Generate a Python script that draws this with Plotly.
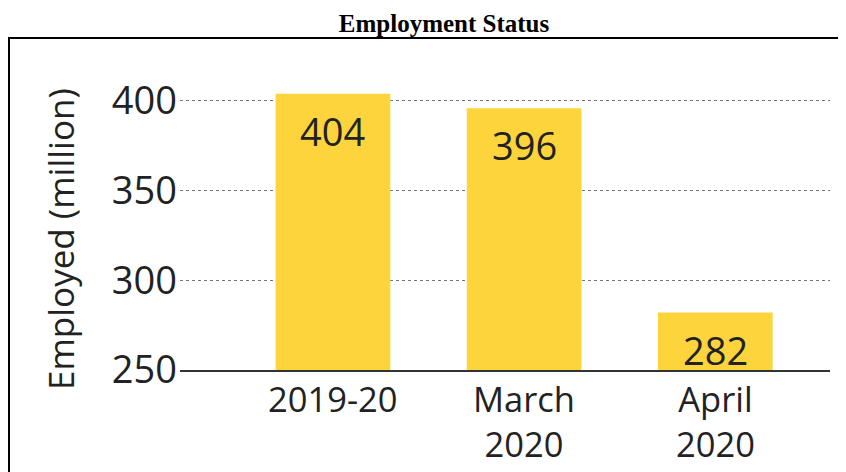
import plotly.graph_objects as go

categories = ["2019-20", "March<br>2020", "April<br>2020"]
employed = [404, 396, 282]
y_ticks = [250, 300, 350, 400]
y_title = "Employed (million)"
chart_title = "Employment Status"

W, H = 846, 472
OFF = 8  # page body margin
# plot area in page pixels: x 180..830, y 80..370
L, R, T, B = 180 - OFF, W - (830 - OFF), 80 - OFF, H - (370 - OFF)
pw, ph = W - L - R, H - T - B

def px_x(px):  # page px -> paper
    return (px - OFF - L) / pw

def px_y(py):
    return (H - B - (py - OFF)) / ph

BAR = "#FDD43C"
TXT = "#222222"
FONT = "Open Sans, Noto Sans, sans-serif"

fig = go.Figure()
fig.add_trace(go.Bar(
    x=list(range(len(categories))),
    y=employed,
    base=0,
    marker=dict(color=BAR, line=dict(width=0)),
    width=0.6,
    hoverinfo="skip",
))

for i, v in enumerate(employed):
    fig.add_annotation(x=i, y=v, text=str(v), showarrow=False, yanchor="top",
                       yshift=-9, font=dict(family=FONT, size=38, color=TXT))

# category labels
for i, cat in enumerate(categories):
    fig.add_annotation(x=i, xref="x", y=px_y(373), yref="paper", text=cat,
                       showarrow=False, xanchor="center", yanchor="top", align="center",
                       font=dict(family=FONT, size=34.5, color=TXT))

fig.add_annotation(x=px_x(60), y=px_y(239), xref="paper", yref="paper", text=y_title,
                   textangle=-90, showarrow=False, xanchor="center", yanchor="middle",
                   font=dict(family=FONT, size=35, color=TXT))

fig.update_layout(
    width=W, height=H,
    margin=dict(l=L, r=R, t=T, b=B),
    paper_bgcolor="white", plot_bgcolor="white",
    showlegend=False,
    title=dict(text="<b>" + chart_title + "</b>", x=(444 - OFF) / W, xanchor="center",
               y=1 - (23 - OFF) / H, yanchor="middle",
               font=dict(family="Liberation Serif, Times New Roman, serif", size=25, color="black")),
    xaxis=dict(
        range=[-0.8, 2.6],
        tickmode="array", tickvals=list(range(len(categories))), ticktext=categories,
        showticklabels=False,
        showgrid=False, zeroline=False,
        showline=True, linecolor="#333333", linewidth=2,
        ticks="", fixedrange=True, automargin=False,
    ),
    yaxis=dict(
        range=[250, 411.7],
        tickmode="array", tickvals=y_ticks, ticktext=[str(t) for t in y_ticks],
        tickfont=dict(family=FONT, size=38, color=TXT),
        showgrid=True, gridcolor="#777777", griddash="dot", gridwidth=1,
        zeroline=False, showline=False, ticks="", ticklabelstandoff=2,
        fixedrange=True, automargin=False,
    ),
    shapes=[
        dict(type="line", xref="paper", yref="paper", x0=px_x(9), x1=px_x(9), y0=px_y(38), y1=px_y(490),
             line=dict(color="black", width=2)),
        dict(type="line", xref="paper", yref="paper", x0=px_x(8), x1=px_x(860), y0=px_y(38), y1=px_y(38),
             line=dict(color="black", width=2)),
    ],
)

fig.write_html("out.html")
